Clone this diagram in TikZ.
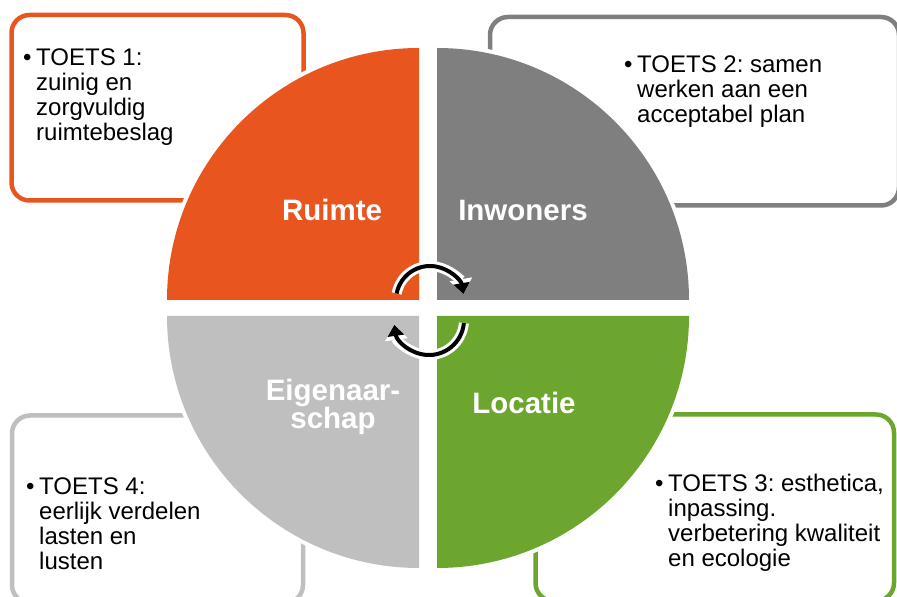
\documentclass[tikz,border=0pt]{standalone}
\usepackage{fontspec}
\setmainfont{Liberation Sans}
\usetikzlibrary{arrows.meta}
\definecolor{ruimte}{RGB}{233,85,30}
\definecolor{inwoners}{RGB}{127,127,127}
\definecolor{locatie}{RGB}{108,166,46}
\definecolor{eigendom}{RGB}{191,191,191}
\frenchspacing
\newcommand{\toetsregels}[1]{\begin{tabular}[t]{@{}l@{}l@{}}\makebox[13pt][l]{\textbullet} & #1\end{tabular}}

\begin{document}
\begin{tikzpicture}[x=1pt,y=1pt,
  toetskader/.style={draw=#1,line width=4.5pt,rounded corners=18pt},
  kwart/.style={fill=#1,preaction={draw=white,line width=8pt}},
  kop/.style={text=white,font=\bfseries\fontsize{29.5}{24}\selectfont,align=center,inner sep=0pt},
  tekst/.style={anchor=base west,inner sep=0pt,font=\fontsize{24}{25}\selectfont},
  pijl/.style={line width=4pt,-{Triangle[length=11pt,width=16pt]},
    preaction={draw=white,line width=10pt,-{Triangle[length=15pt,width=22pt]}}}]

\useasboundingbox (0,0) rectangle (897,597);

\draw[toetskader=ruimte] (11.5,582) rectangle (303.5,396.5);
\draw[toetskader=inwoners] (490,580) rectangle (899,391.5);
\draw[toetskader=eigendom] (12,181.5) rectangle (303,-6);
\draw[toetskader=locatie] (535.5,182.5) rectangle (894,-4);

\fill[kwart=ruimte] (419,297) -- ++(180:252) arc[start angle=180,end angle=90,radius=252] -- cycle;
\fill[kwart=inwoners] (437,297) -- ++(90:252) arc[start angle=90,end angle=0,radius=252] -- cycle;
\fill[kwart=locatie] (437,281) -- ++(0:252) arc[start angle=0,end angle=-90,radius=252] -- cycle;
\fill[kwart=eigendom] (419,281) -- ++(-90:252) arc[start angle=-90,end angle=-180,radius=252] -- cycle;

\node[kop,anchor=base] (ruimte) at (332,376) {Ruimte};
\node[kop,anchor=base] (inwoners) at (523,376) {Inwoners};
\node[kop] (eigenaarschap) at (333,190) {Eigenaar-\\schap};
\node[kop,anchor=base] (locatie) at (524,183) {Locatie};

\draw[pijl] (430,297) ++(169:34) arc[start angle=169,end angle=10,radius=34];
\draw[pijl] (429,277) ++(-5:35) arc[start angle=-5,end angle=-172,radius=35];

\node[tekst] (toets1) at (23,531) {\toetsregels{TOETS 1:\\ & zuinig en\\ & zorgvuldig\\ & ruimtebeslag}};
\node[tekst] (toets2) at (624,524) {\toetsregels{TOETS 2: samen\\ & werken aan een\\ & acceptabel plan}};
\node[tekst] (toets4) at (26,102) {\toetsregels{TOETS 4:\\ & eerlijk verdelen\\ & lasten en\\ & lusten}};
\node[tekst] (toets3) at (655,105) {\toetsregels{TOETS 3: esthetica,\\ & inpassing.\\ & verbetering kwaliteit\\ & en ecologie}};
\end{tikzpicture}
\end{document}
